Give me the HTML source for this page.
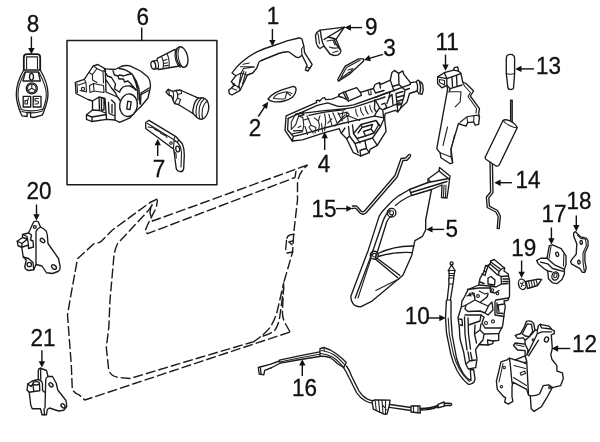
<!DOCTYPE html>
<html><head><meta charset="utf-8">
<style>
html,body{margin:0;padding:0;background:#fff;}
svg{display:block;will-change:transform;}
text{font-family:"Liberation Sans",sans-serif;font-size:23.2px;fill:#111;stroke:#111;stroke-width:0.3;}
.l{fill:none;stroke:#1a1a1a;stroke-width:1.35;stroke-linecap:round;stroke-linejoin:round;}
.t{fill:none;stroke:#222;stroke-width:1.1;stroke-linecap:round;stroke-linejoin:round;}
.w{fill:#fff;stroke:#1a1a1a;stroke-width:1.35;stroke-linecap:round;stroke-linejoin:round;}
.d{fill:none;stroke:#1a1a1a;stroke-width:1.4;stroke-dasharray:10 3;stroke-linejoin:round;}
.a{fill:none;stroke:#111;stroke-width:1.4;}
.h{fill:#111;stroke:none;}
</style></head><body>
<svg width="600" height="442" viewBox="0 0 600 442">
<rect width="600" height="442" fill="#fff"/>
<!-- 00_labels.svg -->
<g id="labels" text-anchor="middle">
<text transform="translate(32.9 32.3) scale(0.97 1)">8</text>
<text transform="translate(142.8 25) scale(0.97 1)">6</text>
<text transform="translate(272.9 24.3) scale(0.97 1)">1</text>
<text transform="translate(371.2 35.3) scale(0.97 1)">9</text>
<text transform="translate(389.6 56) scale(0.97 1)">3</text>
<text transform="translate(447.2 49.5) scale(0.97 1)">11</text>
<text transform="translate(548.6 73.6) scale(0.97 1)">13</text>
<text transform="translate(255 135.800) scale(0.97 1)">2</text>
<text transform="translate(159 176.5) scale(0.97 1)">7</text>
<text transform="translate(324 172) scale(0.97 1)">4</text>
<text transform="translate(527.9 188) scale(0.97 1)">14</text>
<text transform="translate(324 216.5) scale(0.97 1)">15</text>
<text transform="translate(451.8 237.3) scale(0.97 1)">5</text>
<text transform="translate(554 222) scale(0.97 1)">17</text>
<text transform="translate(579 208.5) scale(0.97 1)">18</text>
<text transform="translate(523.7 255.7) scale(0.97 1)">19</text>
<text transform="translate(39 198.7) scale(0.97 1)">20</text>
<text transform="translate(43 346.2) scale(0.97 1)">21</text>
<text transform="translate(417.200 323.800) scale(0.97 1)">10</text>
<text transform="translate(584.500 352.300) scale(0.97 1)">12</text>
<text transform="translate(304.600 396) scale(0.97 1)">16</text>
</g>

<!-- 01_box.svg -->
<rect x="67" y="40.6" width="149.9" height="144.1" class="l" style="stroke-width:1.5"/>

<!-- 10_key8.svg -->
<g id="p8">
<path class="a" d="M31.4 36.5V50"/><path class="h" d="M31.4 54.3l-3.2-6.3h6.4z"/>
<path class="l" style="stroke-width:1.8" d="M23.8 70V57.5q0-3.3 3.3-3.3h9.8q3.3 0 3.3 3.3V70"/>
<path class="t" d="M26.6 68.6V56.9h10.9v11.7"/>
<path class="l" d="M23.8 70C19 78 16.3 86 16.3 94c0 8 2.2 14 4.6 19.500l1.200 2.300 5 0.700v-4h3.500v4.500l3 0.500 8.500-2.300 1-1.800C45.500 107 48 101 48 94c0-8-3-16-7.800-24z"/>
<path class="t" d="M25 72C20.500 80 18 87 18 94c0 6 1.500 11 3.300 15.500M38.800 72C43 80 46.300 87 46.300 94c0 6-1.600 11-3.600 16"/>
<path class="t" d="M21 109.500q11 3 22-0.500M21.800 111.500q10.500 3 20.500-0.500"/>
<path class="l" d="M25.300 72h13L40.300 81H23z"/>
<ellipse class="l" cx="31.500" cy="76.800" rx="2" ry="3.400"/>
<circle class="l" cx="31.800" cy="88.300" r="5.500"/><circle class="t" cx="31.800" cy="88.300" r="4.200"/>
<path class="t" d="M31.800 84.200v4.100l-3.600 2.200M31.800 88.300l3.600 2.200"/>
<rect class="l" x="23.200" y="96.300" width="7.500" height="10.700"/>
<rect class="l" x="33.200" y="96.300" width="7.800" height="10.700"/>
<path class="t" d="M25 104v-3.500h2.500v3.500zM27.500 100.500l1-2.500M35 98.500h3.500M35 98.500v2.500h2q1.500 0 1.500 1.500t-1.500 1.500h-2"/>
</g>

<!-- 11_box6.svg -->
<g id="p6">
<path class="a" d="M141.700 27.500V40.500"/>
<!-- housing -->
<path class="w" d="M75.300 82.300L84.300 79.300L88.800 72.500L93.300 65.800L97.800 64.500L105.300 68.800L115 69.500L121 66.500Q125 65 130 65.800L140.500 71L148 77Q151 82 150.300 87.500L148 98L140.500 107L137.500 109.500L130 117.800L119.500 122.300L115 120L106.800 119.300L91.800 121.500L86.500 119.300L86.500 114.800L92.500 110L92.500 101L88 99.500L76 93.500Z"/>
<path class="t" d="M77 83.500L77.500 92.500M84.300 79.300L86 82.500L78.500 85M86 82.500L86.500 92L80 90.500M88.800 72.500L92.500 74.500L97 68.500L93.300 65.800M97 68.500L103 71.500L105.300 68.800M92.500 74.500V80L97 82.500M103 71.500L103.500 83M89.500 85.500L93.500 83.500L103.500 85.500L104 92.500L94 91L90 92.500zM93.500 83.500L94 91"/>
<path class="l" d="M105.300 68.800L106 92L117.500 97L120.500 101M104.500 71L107.500 76L111.500 77.500L115.500 84L114.500 89L119.500 92M105.500 79L111.500 88L115.500 93L117.500 97"/>
<path class="l" d="M113 71L114.500 75L118 76L119.500 75L124 76L126 75L131 74M118 76L119 79L123.500 79L124.500 82L128 81L131 84L136 90M119 68.500Q126 69 132 74Q137 81 139 89L140 104M133 76Q136.500 83 137.500 90L138 100"/>
<path class="l" d="M119.500 92Q121 88.500 123 87Q126.500 85.500 130 86Q134 87.500 136 90M141 93L149 88M140.500 95L148.500 90.500M141 93L140.500 104"/>
<circle class="t" cx="83" cy="89" r="1.600"/>
<path class="l" d="M92.500 101L99 97L105 98.500L106.500 119M99 97L99.500 110.500L92.500 110M99.500 110.500L105.500 113M101.500 98.500q1.500-1.500 2.500 0v11.500h-2.500zM108.500 102.500L109 113.500L115 116V103.500L111.500 100M112 104.500V113M86.500 114.800L92 117L106.500 114.500M92 117V121.500M115 116L115 120"/>
<ellipse class="w" cx="128.500" cy="105.200" rx="8.800" ry="11.300" transform="rotate(8 128.500 105.200)"/>
<path class="l" d="M127.800 101.200l3.400 0.700l-1.200 7.700l-3.200-0.600z"/>
<!-- upper cylinder -->
<path class="w" d="M153 61.200L157 60.300L157.300 58.300L175 49.300L179.500 66L158.700 69.500L158 68.500L153.800 69.200"/>
<ellipse class="w" cx="153.300" cy="65.200" rx="2.300" ry="4" transform="rotate(-12 153.300 65.200)"/>
<path class="t" d="M157 60.300Q159.500 64.500 158 68.500M161.500 56.500Q164.500 62 163 68.700M167 53.500Q170 60 169 67.700M163.500 60.500l3.500-1M164 63.500l3.500-0.800M164 66l4-0.600"/>
<ellipse class="w" cx="182" cy="57" rx="5.600" ry="10.500" transform="rotate(-14 182 57)"/>
<path class="t" d="M177 48Q174 52 175.500 59Q177 65 180.500 67.300M179.500 47.500Q177 52 178.500 58.500Q180 64.500 183 67.300"/>
<!-- lower cylinder -->
<path class="w" d="M166 92L168.300 89.300L172.700 91.300L176 90.500L180 90L198.500 98.200L193 113.500L178.700 104.700L174.500 103.500L173 100L171.500 96L169.300 95.500Z"/>
<path class="t" d="M168.300 89.300Q169.500 92 169.300 95.500M172.700 91.300Q174.500 95 173 100M176 90.500Q178.500 94 177.500 98L174.500 103.500M180 90Q182 91.500 181.500 93.500L178 94.500M177.500 98L180.500 99.500L178.700 104.700"/>
<path class="w" d="M198.500 98.200Q195.500 100 194 105Q192.500 110 193 113.500L197.500 118Q201 120.500 204.500 118Q208 114.500 208.800 108Q209 102 205.500 99Q202 97 198.500 98.200Z"/>
<path class="t" d="M201.500 98Q198 101 196.500 106.500Q195.500 112 196.500 116.500M204.500 98.500Q201 101.500 199.500 107Q198.500 113 199.500 118.500M207.500 101Q204 103 202.500 109Q201.500 115 202.500 119"/>
<!-- key blade 7 -->
<path class="w" d="M145.700 122.500L149 120.300L175.500 136.300L178.500 139.500L182.300 143.700Q184.500 149 184.300 155L183.700 168.300Q183 172 180.300 171.700Q177 171 176.300 169L175 159L174.200 152L173.500 149L145.700 128.500Z"/>
<path class="t" d="M147.500 123.500L173.500 139.500M148 127L152 127.500Q154 127.500 155 129.500L158 131Q160 131.500 161 133.500L164 135Q166 135.500 167 137.500M174.800 136.500L174 140L177.500 142.500L178.500 139.500M174 140L173.500 149M177.500 142.500Q181 146 181.500 153L181 167M174.200 152L176 153.500L176.300 158"/>
<ellipse class="l" cx="177.700" cy="149" rx="1.900" ry="2.900" transform="rotate(-10 177.700 149)"/>
<circle class="t" cx="171" cy="143" r="1.300"/>
<path class="a" d="M157.700 156V143"/><path class="h" d="M157.700 139l-3.200 6.300h6.400z"/>
</g>

<!-- 12_handle.svg -->
<g id="p1">
<path class="a" d="M272.400 29V41"/><path class="h" d="M272.400 46.300l-3.200-6.300h6.400z"/>
<path class="w" d="M232 73Q236 67 241.800 61.900Q249 56 256.900 51.800Q264 48.500 272.400 46Q280 43.500 287 40.900L298.700 38Q301 37.800 302 39.200L303.800 46L304.600 52.600L312.100 64.400L311.300 66L307.900 71L305.400 70.200L306.300 66.900L307.100 65.200L302 55.200L298.700 57.700Q296 57.500 294.500 56L288.700 51.800Q284 51.500 278.600 53.500L260.200 61Q258.500 62 258.300 64L256.700 68.300L252.700 73L247.300 75L244.700 81L240 90.300L232 95L229.300 93.700L228.700 90.300L234.700 85L231.300 81.700L236 75.700Z"/>
<path class="t" d="M243 64.300L249.300 63M240.500 66.700L254.300 66.700M303.800 46L301.500 49L302 55.200M306.300 66.900L310 68M236 75.700L241 73L247.300 75M241 73L239 85L240 90.300M243.500 68.500L241 73M243.500 68.500L254.500 67M244 71L238 88M246 72L242.500 84M234.700 85L238.500 87M232 88.500L236.500 90M233 83.500l1.500 1"/>
<path class="h" d="M232.300 84.300l2.200-1 0.600 2-2 0.600z"/>
</g>
<g id="p2">
<path class="w" d="M268 99Q271 95 276 92.300Q281 90 286.700 88.300L293.300 86.300Q296.500 87 296 90.300Q295.500 94 292.700 97Q289 100 284 101Q279 102.300 273.300 101.700Q269.500 101 268 99Z"/>
<path class="t" d="M273.300 98.300Q274.500 96 277.300 94.300Q281.500 92.500 286.700 91.700Q290 92 292 93.700M273.300 98.300Q279 99.500 285 98.700L287 92M287 92.500L290.500 95.500"/>
<path class="a" d="M258.300 116.500L266 104.800"/><path class="h" d="M268.300 101.800l-6.300 3.700 5 3.400z"/>
</g>

<!-- 13_p9p3.svg -->
<g id="p9">
<path class="w" d="M320.100 30.100L344.400 27.100L336 39.300L341 51Q340.500 54 337.700 55.200L334 55.500L330 54L327 50L324 46L320 48.500L318.500 47.500Q316 44 316 41L315.500 35Q317 31.500 320.100 30.100Z"/>
<path class="l" d="M320.100 30.100Q321 33 321 36L322.500 42.500L324 46M324 39.500L328 37L344.400 27.100M328 37L334 38.500L336 39.300M334 38.500L336 44L340 49.500"/>
<path class="t" d="M318 33.500L319.500 43.500M327 41L333 40L335 45M329.500 47Q334 49 339 47.500M333 52.500L338 51"/>
<path class="a" d="M362 27.600H349"/><path class="h" d="M344.600 27.600l6.300-3.200v6.400z"/>
</g>
<g id="p3">
<path class="w" d="M363.600 58.900L358.600 58.900L345.200 66.100L337.700 79.500L338.500 81.200L350.200 73.600L363.600 61Z"/>
<path class="t" d="M360 60.200L346.500 67.500L341 77.500M348 70L353 68.500L350 72.500M339.500 79.500L349.500 72"/>
<path class="a" d="M382.900 54.400L368.500 58.600"/><path class="h" d="M364 59.900l5.100-4.800 1.800 6.100z"/>
</g>

<!-- 14_p4.svg -->
<g id="p4">
<path class="w" d="M286.100 115.800L316.800 102.300L316.300 100.700L318.900 100.200L319.500 101.300L322.500 98.100L324.600 97.600L325.700 99.700L331.900 99.200L338.300 96.500L339 94.400L343.200 92.300L356.700 87.600L360.400 92.300L373.400 88.500L375 84.500L379.400 82.600L381 84.300L390.300 80.100L391.900 72.600L394.500 70.400L398.600 73.400L402.800 70.900L403.700 74.200L410.400 82.600L416.200 81.800L417.900 80.100Q421.500 81.500 422.800 85Q424 89.500 422.100 94.300L418.700 93.500L417.100 91L409.500 93.500L407 101.900L400.300 108.600L397.800 111.900L395.300 110.300L385.200 113.600L384.500 117.800L386 131.300L377.300 145.300L370 149.300L369.300 152.700L360.700 156L353.300 152.700L346.700 138.700L341.300 133.300L339.300 128.700L324.600 132.600L302.400 139.900L292.300 141L285 130.400Z"/>
<!-- motor -->
<path class="l" d="M339 94.400L339 96.500L342.700 97.500L346.800 99.600L348.400 101.200L361.400 95.400L360.400 92.300M343.200 92.300L346.800 99.600M345.300 91.800L348.400 99.100"/>
<path class="t" d="M368.200 91.300L369.200 94.900L371.300 94.400L370.800 90.800"/>
<!-- rails -->
<path class="l" d="M288.200 118.400L317.300 105.400L327.700 102.800Q333 104.500 338 106.400Q346 106.500 353.600 104.800L374.400 97.500L391 91.500L410.400 84.300"/>
<path class="l" d="M295.500 114.200L324.600 110.600L338 109.500Q346 109 353.600 107.400L374.400 100.600L385 97"/>
<path class="l" d="M309 115.300L324.600 112.200L345 109.600"/>
<path class="l" d="M302.400 134.400L324.400 128L338 124.500L359.800 119.400L374.400 116.200L384.500 117.800"/>
<path class="l" d="M288.200 118.400L287.600 130L293.300 136.300L302.400 134.400M293.300 136.300L292.300 141"/>
<!-- left internals -->
<path class="t" d="M291.300 122L295.500 114.200L302.800 112.200L303.800 114.200L298.600 116.300L295.500 125.200L291.300 129.300ZM298.600 116.300L302.800 117.400L303.800 125.200L302.800 130.400L293.400 130.900M291.300 134L302.200 131.900L302.800 130.400M306.900 115.800L311.100 125.200L309 127.200L313.200 133M314.200 117.900L318.400 121L319.900 115.800M318.400 121L319.400 125.200L318.400 131.400M324.600 113.700L325.700 121L324.600 130.400M328.800 114.200L331.900 125.200M332.900 112.700L337.100 123.100M338.100 112.700L342.300 121M345 114.800L335 126.200M327.700 123.100L331.900 118.900M305 126.500L307.500 134.500M311.100 125.200L316 127.500L315 133M321.500 123.500L322.500 131.500M303.800 120L309 118.500M298 127.500L301 126"/>
<rect class="t" x="298.500" y="112.800" width="5" height="3" transform="rotate(-16 301 114.300)"/>
<!-- middle internals -->
<path class="t" d="M338 114.200L347.400 112.100M338 122.500L347.600 115.500L359.800 120.400M347.600 115.500L348.400 123.500M355.700 109Q355.500 113 357.800 116.200M360.400 107.900Q360.500 112 363.500 115.200M365 106.400Q365.500 111 368.200 114.200M369.700 105.300Q370 109.500 372.300 112.100M343 111L342 117.500"/>
<circle class="t" cx="347.600" cy="114.500" r="1.400"/>
<path class="l" d="M374.900 99.600L377.500 103.800L379.600 107.900L376.500 112.100L374.400 109ZM379.600 107.900L382.700 110L383.800 118.300M382.700 110L400 102.700M381.700 104.300L384.800 103.200L386.900 107.400L383.800 109M375.500 97.500L382.700 94.400L390 91.800L389 97.500L386.900 103.500M376.500 112.100L374.400 116.200"/>
<!-- right internals -->
<path class="l" d="M373.400 88.500L375.500 93L384 90.500M379.400 82.600L380.500 88M390.300 80.100L392.500 86.500L399 84.500L398.600 73.400M392.500 86.500L394 91M399 84.500L405 90L404 96.500L400.300 108.600M396 93.500L403 91.500M396.500 97.500L403.500 95.500M397 101.500L403 99.500M397 105.500L402 103.500M396 93.500L397.800 111.900M392 94.500L393 104.500M389 97.500L392 94.500M410.400 82.600L410.400 84.300M416.200 81.800Q418.500 86 417.100 91M419.500 82Q421.500 87 420 92.500M405 90L409.500 88.500"/>
<!-- lower block -->
<path class="l" d="M348.500 126.500L349.500 136L355 143.500L358 152.500M355 143.500L372.500 138L377.300 145.300M372.500 138L380.500 126.500L384.500 117.800M352.500 125L353.500 133.500L357 138.500L365.500 136M357 138.500L360 143M353.500 133.500L361 124.500L376 120.500L378.500 125L374 133L365.500 136L363.500 131.500L371 129L372.500 124.500L362 127.500L358 133M376 120.500L380.500 126.500M365 141L366.500 148.500L369.300 152.700M362.500 149.500L366.500 148.500M360.700 156L360 150.500L362.500 149.500M341.300 133.300L345 128M346.700 138.700L349.500 136M371 129L374 133M361 124.500L362 127.500"/>
<path class="a" d="M324.700 150V137"/><path class="h" d="M324.700 132l-3.200 6.300h6.400z"/>
</g>

<!-- 15_p11p13.svg -->
<g id="p11">
<path class="a" d="M445.500 54.500V66"/><path class="h" d="M445.500 70.800l-3.200-6.300h6.400z"/>
<path class="w" d="M437.600 76.900L444.300 72.700L453.500 70.200L454.300 67.700L457.700 66.900L458.500 71.100L461 73.600L462.700 82L466.100 83.500L473.600 91L470.300 96L479.500 108.600L478.600 113.600L479.500 116.800L478.600 124.300L475.300 125.200L473.600 121.800L467.700 122.600L466.100 126L462.700 125.200L458.500 123.500L451 148.600L452.700 162.800L450.200 163.700L440.900 157.800L440.100 152.800L436.800 148.600L447.600 89.300L446.800 85.300L441.800 87.800L437.600 83.600Z"/>
<path class="l" d="M437.600 76.900L446.800 78.600L446.800 85.300M446.800 78.600L461 73.600M446.800 85.300L450.200 88.700L462 85M450.200 88.700L449 92M452 77L452.500 86.500M456.500 75.500L457 85.500M444.300 72.700L446.800 78.600M453.500 70.200L458.500 71.100"/>
<path class="t" d="M439.500 79.500L444.500 80.500L444.500 85L439.500 82.500ZM450.200 91.800L461 91.800L460.200 101.900L455.200 106.900M462.700 82L464.500 86L470.500 92.500L468 96.500L476.500 108.500L476 113M460.200 122.200L466.900 116.800L477 115.100L479.500 116.800M466.900 116.800L467.700 122.600M473.600 121.800L474 116M447.500 127L443 145.500M454.500 135L451 150M440.100 152.800L451 157L452.700 162.800M451 157L451 148.600"/>
</g>
<g id="p13">
<path class="w" d="M506.300 73.600V58.500Q506.300 54.300 510.450 54.300Q514.600 54.300 514.600 58.500V73.600L513.500 88Q513.300 89.500 510.750 89.500Q508.300 89.500 508 88Z"/>
<path class="t" d="M506.300 73.600Q510.500 75 514.600 73.600"/>
<path class="a" d="M534 68.900H520"/><path class="h" d="M515.200 68.900l6.300-3.200v6.400z"/>
</g>

<!-- 16_p14.svg -->
<g id="p14">
<path class="l" d="M510.600 100.200V124M512.200 100.200V124.500M510.600 100.200h1.600"/>
<path class="w" d="M503 120.500Q505 118.800 510 121Q516 124 517.200 127.700L499.300 164.800Q498.500 166.500 496 166L493.700 164.500L486.200 159.500Q484.800 158.500 485.300 157Z"/>
<path class="t" d="M503 120.500Q504.500 123 509.500 125.500Q514.500 128 517.200 127.700"/>
<path class="l" d="M490 162.300L490.600 192L486.400 197L487.200 207.500L495.800 212L498.200 216.500L497.200 228.400L499.200 228.600L500.400 216L497.500 210.500L489.400 206.200L488.800 197.800L493 192.600L492.400 163.800"/>
<path class="a" d="M512 182.700H499"/><path class="h" d="M494.300 182.700l6.300-3.200v6.400z"/>
</g>
<g id="p17">
<path class="a" d="M551.400 227.500V240"/><path class="h" d="M551.400 244.500l-3.200-6.300h6.400z"/>
<path class="w" d="M549.300 245.600L552.500 244.800L561.200 248.700L566 255.900L566 264.600L564.400 269.300L564.400 274.100L562 279.600L557.200 283.600L552.500 282.800L548.500 278.800L547.700 270.900L543.800 268.500L538.200 263.800L536.700 260.600L540.600 258.200L547 258.200Z"/>
<path class="l" d="M547 258.200L554.100 264.600L564.400 269.300M540.500 262.200L547.700 263.800L552.500 268.500L563.500 271.300M547.700 270.900L552 271.800"/>
<path class="t" d="M551 246.500L549 258.500M563.800 254L563.500 266"/>
<ellipse class="l" cx="557.200" cy="254.300" rx="1.400" ry="2.200" transform="rotate(-15 557.200 254.300)"/>
<ellipse class="l" cx="555.300" cy="276" rx="3.300" ry="4.200" transform="rotate(20 555.300 276)"/>
<ellipse class="t" cx="555.500" cy="275.500" rx="1.500" ry="2.300" transform="rotate(20 555.500 275.500)"/>
</g>
<g id="p18">
<path class="a" d="M576.300 215.500V227"/><path class="h" d="M576.300 231.400l-3.200-6.300h6.400z"/>
<path class="w" d="M573.700 233.100Q574.500 231.500 575.600 231.800L577.400 233.700L580.500 236.800L586.200 238.100L588 240.600L588 246.200L584.900 253L584.900 261.100L586.200 268L584.900 272.300L582.400 272.300L579.900 268.600L571.800 264.200L570.600 261.700L572.500 258.600L576.200 254.300L576.800 243.700L573.700 236.200Z"/>
<path class="t" d="M577.400 235L580.500 238.100L585.500 239.300L586.400 245.500L583 253L583 262.400L584.300 271.100"/>
<ellipse class="l" cx="581.200" cy="242.400" rx="1.200" ry="1.900" transform="rotate(-10 581.200 242.400)"/><ellipse class="l" cx="578.900" cy="262.100" rx="1.200" ry="1.900" transform="rotate(-10 578.900 262.100)"/>
</g>
<g id="p19">
<path class="a" d="M521.600 260.500V273.500"/><path class="h" d="M521.600 278l-3.200-6.300h6.400z"/>
<path class="w" d="M526 281.500L538 279.200L541.600 279.400L537.500 285.500L527.500 288.500Z"/>
<path class="t" d="M528.500 281L530 288M531 280.500L532.500 287M533.500 280L535 286.500M536 279.500L537.500 285.500"/>
<ellipse class="w" cx="522.200" cy="284.300" rx="3.600" ry="5.300" transform="rotate(-15 522.200 284.300)"/>
<path class="t" d="M520.500 283L524 285.500M523.200 282L521.300 286.500"/>
</g>

<!-- 17_p5p15.svg -->
<g id="p15">
<path class="l" d="M352.400 206L355.500 205.800Q357 206 358 207.500L361.500 211.500Q363 212.500 364.500 211L395 175.500L401 158.500L405.500 158L408 155.500Q409.500 153.500 410.500 155Q411 156.500 409.500 157.500L407 160.300L403 160.500L397.200 177L366 213Q363 215.500 360 213L356.500 209Q355.500 208 354.500 208.200L352.400 208.500"/>
<path class="a" d="M336 208.600H348"/><path class="h" d="M352.600 208.600l-6.300-3.200v6.400z"/>
</g>
<g id="p5">
<path class="w" d="M439 171L439.500 167.500L450 176L449.500 179.500L449 184L447 198L441.500 197.500L442 185L431.500 189.500L425.700 220L425.700 229.800L422.500 236.300L414.900 240.600L411.600 255.800L402.900 275.300L371.500 301.400L360.600 306.800Q355 306.500 353 303.600Q350.500 300 350.900 296L368.200 250.400L379.100 216.400Q382 211 386.700 206.700Q392 200.500 398.600 195.800L409.500 189.500L428 182.500L428 179Z"/>
<path class="l" d="M439 171L449.500 179.500M428 182.500L448.500 178.500M411 192.500L447 181.500M409.500 189.500L411.500 195.500L431.500 189.500M411.500 195.500Q402 199.500 395.500 205.500"/>
<path class="t" d="M444 185L443.500 196.500M446 185L445.500 197M428 179L430.500 181.500"/>
<path class="l" d="M355.200 298.100L371.500 254.700L383.400 220Q386 213.500 390 210M375.500 258L386.700 222Q389 217 392.500 215.500"/>
<circle class="l" cx="391.600" cy="212.700" r="4.300"/><circle class="t" cx="391.600" cy="212.700" r="2"/>
<circle class="l" cx="374.300" cy="255.200" r="4"/><circle class="t" cx="374.300" cy="255.200" r="1.800"/>
<path class="l" d="M378 253.500Q395 245.500 413.800 246M378.200 256.500Q395 251.500 411.600 252.600M377 258.200L399.700 275.300M375.500 259.200L397.500 277.500"/>
<path class="t" d="M375.800 290.500L399.700 278.600M371 258.500L358 298"/>
<path class="a" d="M444.200 229.400H431"/><path class="h" d="M426.200 229.400l6.300-3.200v6.400z"/>
</g>

<!-- 20_door.svg -->
<g id="door">
<!-- outer -->
<path class="d" d="M157.500 198.800L150 202.500L112.500 230L101.300 241.300Q98 243.500 93.800 243.800L77.500 258.800L70 300L67.500 315L71.300 365L72.300 389.500Q75 393.500 79 394.800L84.800 400L290 332"/>
<path class="d" d="M290 332L284 321Q282 316 282.500 310L283.800 282.500L292.500 252.500L293.800 232.500L297.500 200L297.500 182.500Q299 173 305 167.500L307.500 165"/>
<!-- window top lines -->
<path class="d" d="M307.500 165L190 207.500L152.500 221L150 213L151.300 203.800"/>
<path class="d" d="M296 171L295 177.500L190 217.500L147.500 233.700L145 231L147.500 225L156.300 207.500L157.500 200"/>
<!-- inner left -->
<path class="d" d="M152.500 204.500L148.800 210L117.500 243.800Q114.500 250 113.800 257.500L110 300L108.800 327.500L106.300 347.500L108.800 370.500Q111 376 117.500 377.300L130 378.500L200 357.500L252.500 342"/>
<!-- inner right curves -->
<path class="d" d="M252.500 342.500Q264 335 270 327.500Q275 320 277.500 310L283.800 282.500"/>
<path class="d" d="M262.500 336.300Q271 334 275 330Q279 324 280 315L283.800 287.500"/>
<!-- small bracket -->
<path class="l" d="M294.400 234.100Q289.500 234.500 287.600 236.500L286.900 238.300M286.500 240.500L285.700 249.500M287 253L292.800 252"/>
<path class="l" d="M288.900 242L292.800 240.800M288.900 242L292 244.800"/>
</g>

<!-- 21_hinges.svg -->
<g id="p20">
<path class="a" d="M36.500 204.500V216"/><path class="h" d="M36.500 220.500l-3.200-6.300h6.400z"/>
<path class="w" d="M33.750 221.750Q36 220.500 38.250 221.750L40.500 227L44.250 229.250Q47 231 47.250 234.500L48 243.500L58.500 258.500L60 266Q60.500 270 58.500 271.250L52.500 273.500L46.500 272.750L42 266L36 264.500L33.750 269.750L28.500 270.500Q25 269.500 24.750 266.750L26.250 260L23.250 257L21.750 247.250L18 245.750L17.250 241.250L22.500 237.500L22.500 234.500L28.500 233Z"/>
<path class="l" d="M36 231.500V264.500M36 231.500Q37.500 228.500 40.500 227M28.500 233L31.500 235L30.500 240L33 241L33.500 247L28.500 248.500L28.500 245L21.750 247.250M22.500 237.500L27.500 239L28.500 245M17.250 241.250L22 243.500L27.500 239M22 243.500L21.750 247.250M22.500 234.500L27 236.500L27.500 239M23.250 257L28.500 258.500L33 262.500L33.750 269.750"/>
<circle class="l" cx="34.800" cy="227" r="1.400"/>
<ellipse class="l" cx="42.500" cy="240.500" rx="2.600" ry="1.700" transform="rotate(40 42.500 240.500)"/>
<ellipse class="l" cx="54" cy="267" rx="2.800" ry="1.800" transform="rotate(40 54 267)"/>
<circle class="l" cx="29.300" cy="264.500" r="2.200"/>
</g>
<g id="p21">
<path class="a" d="M41.900 350.300V363"/><path class="h" d="M41.900 367.500l-3.200-6.300h6.400z"/>
<path class="w" d="M38.250 370.500Q38.500 368.500 40.500 368.250L46.500 370.500L48 376.500L52.500 376.500L56.250 383.250L57.750 390L66 400.500L66.750 406.500L63.750 410.250L58.500 411L49.500 408L47.250 409.500L46.500 414.750L42 414.750L40.500 408.750L32.250 408.750L30.750 405L29.250 392.250L27 390L27.750 384L32.250 381L38.250 379.500Z"/>
<path class="l" d="M45.750 379.500L45 408M45.750 379.500Q46 377.500 48 376.500M40.500 368.250L40.800 379M38.250 379.500Q42 380.500 42.500 384L42.500 390.500L45 392.500M33 384L33.750 391.500L39.750 390.750L39.500 384M29.250 392.250L33.750 391.500M27.750 384L31 386.500L33 384M44 409L44.500 414.750"/>
<ellipse class="l" cx="36.200" cy="383.300" rx="3.200" ry="1.700"/>
<ellipse class="l" cx="51" cy="384.800" rx="2.400" ry="1.600" transform="rotate(45 51 384.800)"/>
<ellipse class="l" cx="63" cy="405.800" rx="2.400" ry="1.600" transform="rotate(45 63 405.800)"/>
</g>

<!-- 22_latch.svg -->
<g id="p10">
<circle class="l" cx="451.600" cy="263.400" r="1.500"/>
<path class="w" d="M451.600 265L448.300 270.500L449 271.500L449.200 278L448.700 278.500L449 284L447.200 300L446.400 300.500L445.500 318L446.500 333L450.700 353.700Q452.500 361.700 457 370.500Q461.700 379 468.300 384.300Q471.500 385 474.300 381.700L475 379L473.700 369.700L470.300 369.700L471 380.300Q466.500 378.500 463 373Q459 367 456.500 358L452.200 335L451 318L451 300.500L450.400 300L453 284L453.800 278.500L453.600 278L454.700 271.500L455 270.500Z"/>
<path class="t" d="M448.300 270.500H455M449.200 278H453.600M449 284H453M449.200 273.500H454.300M449.200 275.500H454.200M447.200 300H450.400M448.200 318L449.300 334L453.300 353.500Q455.500 362 459.500 369.500Q463.500 376.500 469.500 381.500"/>
<path class="a" d="M427 318H441"/><path class="h" d="M445.600 318l-6.300-3.200v6.400z"/>
</g>
<g id="latch">
<path class="w" d="M490.800 260.800L494.200 259.500L504.700 268.300L504 271L508 273.700L509.500 280.300L509.500 296.300L508 300.300L504 301L505.300 306.300L504 315L502.700 325.700L498.700 333.700L498.700 340.300L493.300 341L492.700 343.700L488 345L479 344.500L475.500 349.700L477 359L475.700 367.700L468.300 369L465.700 363.700L463.700 352.300L460 339L459.300 327L458 317.700L461.300 307L462 300.800L463.300 299L468 289.700L478.700 285L480 278.300L484 271.700L485.300 266.300L490 264.300Z"/>
<path class="l" d="M490.500 261L491.500 262.500L501 269.500L504.500 267.500M490 264L499 271.500L501 269.500M499 271.500L498.500 275L501 276.500L508 276M485.500 265.500L488 266L490 264M488 266L497 274.500L498.500 275M484 271L486 272L488 266M486 272L485 275.500L482 274M488 278L491 276.500L495 280L494.500 285L488 284ZM501 276.500L501.500 284L508 283.500M503 279H508.500M503 281.500H508.500M479 285L490 286L496 287L501.500 284M467.500 289.500L479 288L491 288M490 286L490.500 292L495 293L499 290.500M480 282L484 283.500"/>
<path class="t" d="M472 292Q472.500 295 475 297M479 291L485 294L488 293M468.500 295.500l1.500-2.500l1 3z"/>
<path class="l" d="M467 296L474 293L475 300L480 302.500L487 297L488 294M461.500 307L466 305L475 300M466 305L465 309L468 311.500L480 311L485 313L489 305L492 302L493 310L488 315L485 313M480 302.500L488 306M465 315L481 315L484 317L482 323L485 328L502 328M496 300Q495 300.500 495 302L495 315L504 316.500M496 300L508.500 298M497 303L497 313L503 313.500M499 311.500L498 305L504 304"/>
<path class="l" d="M459.500 319L462 319.500L462.500 325.500L460 325M464.500 317L465 334L467 350M468 318L468.500 334L470.500 349M468.500 325L480 321L481 315M475 325L474.500 334L476.500 343M481 324L480 330L484 334L483 340L479 344.500M484 334L498.700 333.700M488 345L487.500 340L493.300 341M474.500 334L480 330"/>
<circle class="t" cx="486" cy="323" r="1.500"/><circle class="t" cx="493" cy="321.400" r="1.500"/>
<circle class="t" cx="478" cy="296" r="1.400"/><circle class="t" cx="492.500" cy="290" r="1.300"/><circle class="t" cx="497.500" cy="293.500" r="1.300"/>
<path class="l" d="M468 352L469.500 361L466.500 363.500M469.500 361L475.500 360M470.500 352.500L472 359.500"/>
</g>

<!-- 23_p12.svg -->
<g id="p12">
<path class="w" d="M526.300 321.400Q529 320.300 531.500 321.400L533.800 323.800L535 330.200L537.300 330.200L538.500 325.500L540.300 324.300L549 326.100L551.900 329.600L554.300 330.800L554.300 333.700L551.300 334.800L552.300 348.500L550.800 354.700L552 359.500L556.900 365.600L556.900 371.100L562.400 372.900L563.300 378.400L560.600 385.700L552.300 387.600L546.800 397.700L541.300 406.800L534 411.400L531.200 408.700L530.300 395.800L528.500 394.900L526.700 389.400L512.900 382.100L512 386.700L512 396.700L512.900 401.300L508.300 404.100L504.700 402.200L505.600 397.700L503.700 396.700L497.300 389.400L496.400 381.200L501 361.900L507 359.900L509.300 358.200L515.200 359.900L525.100 355.800L525.100 350.600L517.500 350L513.400 345.300L515.200 343L525.100 344.200L525.100 340.100L523.300 337.800L517.500 338.300L515.200 335.400L521 333.500L521 332.500L524.500 326.700Z"/>
<path class="l" d="M527.400 323.800L531.500 324.300L532.700 331.300L529.200 336.600L525.100 336L522.200 333.700ZM535 330.200L529.200 337L525.100 340.100M537.300 333.700L526.800 355.300M538.500 340.100L528.600 355.800M537.300 333.700L542 331.900L551.300 331.900M540.300 324.300L541.400 327.800L551.300 329M525.100 344.200L528 350L526.800 355.300M526.700 361L528.500 394.900M525.100 355.800L526.700 361M515.200 359.900L526.700 363.500M510.200 363.700L512 383M509.300 358.200L510.200 363.700M530.300 395.800Q536 396 539.500 394L543.200 385.700L548.700 384.800L552.300 387.600"/>
<path class="t" d="M516 344.700L524 346.500M499 382L503 363.500M514 365.500L525.500 368.500M513.500 377.500L526.500 385.500M537.300 330.200L537.300 333.700"/>
<path class="t" d="M520.200 372.900L524.800 371.100L525.500 373.500L521 375.300Z"/>
<ellipse class="l" cx="546.500" cy="339.500" rx="2" ry="2.600" transform="rotate(20 546.500 339.500)"/>
<circle class="t" cx="533.100" cy="339.800" r="1"/>
<circle class="t" cx="504.300" cy="367.400" r="1.200"/><circle class="t" cx="501.400" cy="386.700" r="1.200"/><circle class="t" cx="525.700" cy="362.800" r="1"/><circle class="t" cx="549.600" cy="387.600" r="1"/>
<path class="a" d="M570.200 348.500H556.500"/><path class="h" d="M551.800 348.500l6.300-3.200v6.400z"/>
</g>

<!-- 24_p16.svg -->
<g id="p16">
<path class="l" d="M262 366.500L258.300 367.500L259.200 374L263.800 374.900L264.700 370.300L272 367.500L279.400 363.500M260.500 368.500L261 373.500M262 366.500L270 364.300L279.400 361"/>
<path class="l" d="M279.400 360.200Q300 355.600 319.700 351.900M280.300 363.200Q300 359.300 319.700 356.500M279.400 360.200L280.300 363.200"/>
<path class="t" d="M281 361.700Q300 357.500 319.700 354.200"/>
<path class="w" d="M320 348.750L323.750 347.500Q331 349.500 336.250 353.750Q342 358 346.250 362.500L343.750 367.500Q340 365.500 337.500 363.750Q334 360 330 357.500Q325 356 320 356.250Z"/>
<path class="t" d="M321.500 350.500Q331 352 337 357Q341 360.500 345 365M320.500 353.500Q330 354.500 336 359.500Q340 363 343.750 367.500M323.750 347.500L324.500 351"/>
<path class="l" d="M343.200 367.200Q346 371 349 377.500L356.500 392.500Q360 398 365.500 401Q369 403 373 403.200M346.500 366Q349.500 370 351.500 376L359 391Q362.500 396.500 367 398.800Q370 400.300 373.500 400.800"/>
<path class="w" d="M372 401L375 399.800L390 400.200L389.200 406L387 414L384.500 414.300L373.300 409.200Z"/>
<path class="t" d="M375 399.800L376.300 410.500M378.500 399.900L379.700 412M382 400L383 413.500M385.500 400.100L385.500 414.200M383 405.500L386.500 409.500"/>
<path class="l" d="M390 404.500L411 407.500M389.500 407.300L411 410.500"/>
<path class="w" d="M411 405.800L420 406L420.300 413L411 412Z"/>
<path class="t" d="M413.500 405.900L413.500 412.200M418 406L418 412.700"/>
<path class="l" d="M420.300 408.500Q430 408.500 438 405.500M420.300 410Q430 410 438 406.800"/>
<path class="l" d="M438 404.400L444 402L444.500 406L438 407.800ZM444.500 403L451 403.500Q452.500 404.500 451 405.500L444.500 405.500"/>
<path class="a" d="M302.300 376V364"/><path class="h" d="M302.300 359.300l-3.200 6.300h6.400z"/>
</g>

</svg>
</body></html>
